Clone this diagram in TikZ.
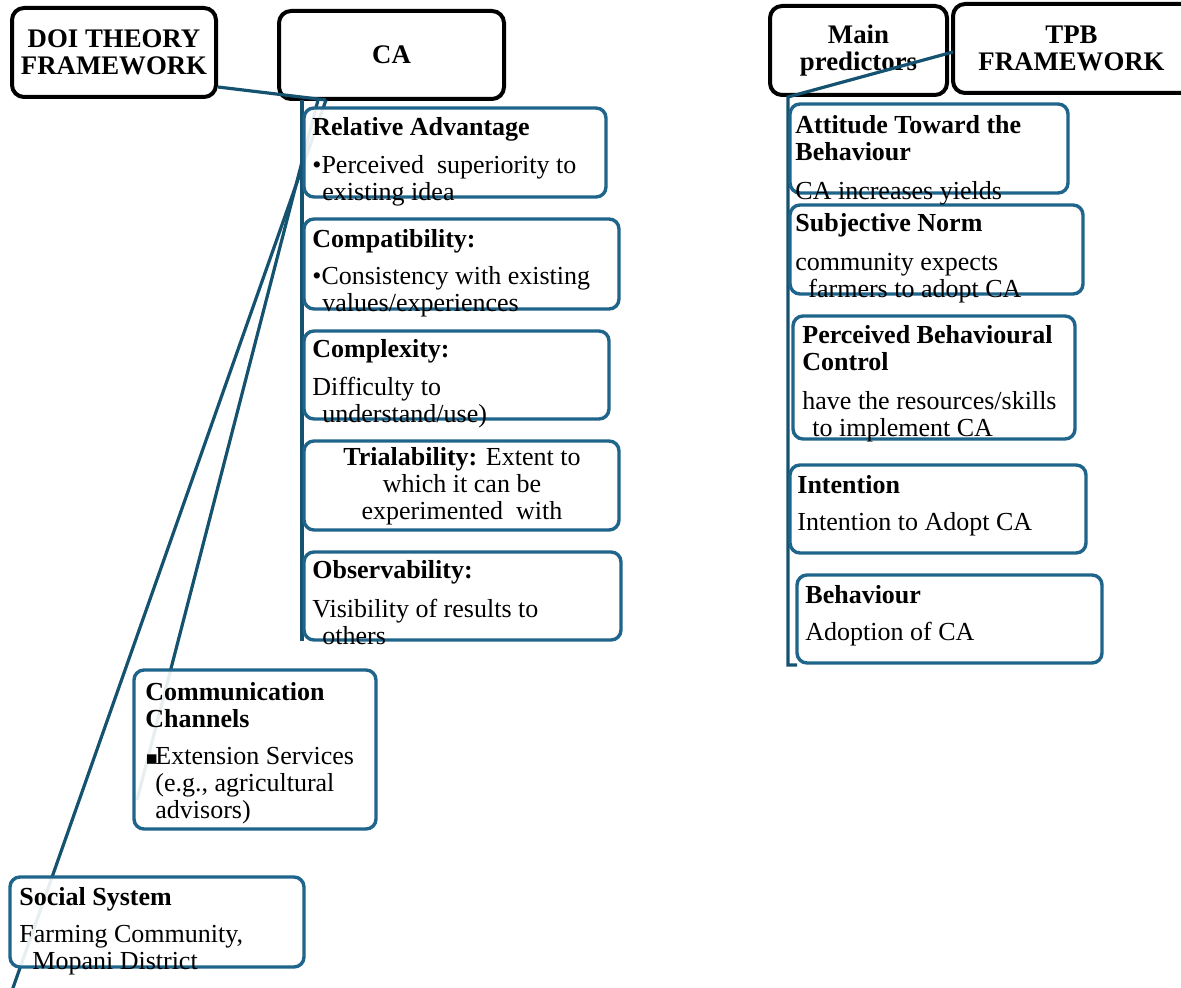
\documentclass[tikz,border=0pt]{standalone}
\usepackage{fontspec}
\setmainfont{Liberation Serif}
\newfontfamily\symfont{DejaVu Sans}
\usetikzlibrary{positioning,fit,calc}
\definecolor{boxblue}{RGB}{31,100,138}
\definecolor{lineblue}{RGB}{21,82,112}
\tikzset{hdbox/.style={draw=black, line width=2pt, rounded corners=6pt, fill=white, inner sep=0pt}}
\tikzset{hdtxt/.style={inner sep=0pt, align=center, font=\fontsize{13.4}{13.5}\selectfont\bfseries}}
\tikzset{itembox/.style={draw=boxblue, line width=1.7pt, rounded corners=5pt, fill=white, fill opacity=0.9, inner sep=0pt}}
\tikzset{txt/.style={anchor=north west, inner sep=0pt, align=left, font=\fontsize{13}{13.5}\selectfont}}
\tikzset{lnk/.style={draw=lineblue, line width=1.6pt}}
\newcommand{\hd}[1]{\textbf{#1}}
\newcommand{\sqbul}{\makebox[5pt][l]{\symfont\fontsize{9.5}{9.5}\selectfont ▪}}

\begin{document}
\begin{tikzpicture}[x=0.5pt, y=-0.5pt]
	\useasboundingbox (0,0) rectangle (1181,988);
	% framework headers
	\node[hdbox, fit={(12,8) (216,97)}] (doi) {};
	\node[hdbox, fit={(279,11) (504,99)}] (ca) {};
	\node[hdbox, fit={(770,6) (947,95)}] (main) {};
	\node[hdbox, fit={(953,4) (1196,93)}] (tpb) {};
	\node[hdtxt] (doi-t) at (doi.center) {DOI THEORY\\FRAMEWORK};
	\node[hdtxt] (ca-t) at (ca.center) {CA};
	\node[hdtxt] (main-t) at (main.center) {Main\\predictors};
	\node[hdtxt] (tpb-t) at ([xshift=-1.5pt]tpb.center) {TPB\\FRAMEWORK};
	%
	\coordinate (apex) at (326,100);
	\coordinate (fanB) at (318,100);
	\coordinate (spine) at (302,100);
	\coordinate (spine-end) at (302,641);
	\coordinate (low-end) at (8,1002);
	\coordinate (cc-in) at (137,800);
	\coordinate (tpb-in) at (953,52);
	\coordinate (rspine) at (788,97);
	\coordinate (rspine-end) at (788,665);
	\draw[lnk] ([yshift=6pt]doi.south east) -- (apex);
	\draw[lnk] (spine) -- (spine-end);
	\draw[lnk] (apex) -- (low-end);
	\draw[lnk] (fanB) -- (cc-in);
	\draw[lnk] (tpb-in) -- (rspine) -- (rspine-end) -- ++(9,0);
	% DOI attributes
	\node[itembox, fit={(304,108) (606,197)}] (ra) {};
	\node[itembox, fit={(304,219) (619,309)}] (comp) {};
	\node[itembox, fit={(304,331) (609,419)}] (cplx) {};
	\node[itembox, fit={(304,441) (619,530)}] (trial) {};
	\node[itembox, fit={(304,552) (621,640)}] (obs) {};
	\node[itembox, fit={(134,670) (376,829)}] (cc) {};
	\node[itembox, fit={(10,877) (304,967)}] (soc) {};
	% TPB predictors
	\node[itembox, fit={(790,104) (1068,193)}] (att) {};
	\node[itembox, fit={(790,205) (1083,294)}] (sn) {};
	\node[itembox, fit={(793,316) (1075,439)}] (pbc) {};
	\node[itembox, fit={(790,465) (1086,553)}] (int) {};
	\node[itembox, fit={(797,575) (1102,663)}] (beh) {};
	%
	\node[txt] (ra-t) at (312,117) {\hd{Relative Advantage}\\[5.5pt]•Perceived\ \ superiority to\\\hspace*{5pt}existing idea};
	\node[txt] (comp-t) at (312,229) {\hd{Compatibility:}\\[5pt]•Consistency with existing\\\hspace*{5pt}values/experiences};
	\node[txt] (cplx-t) at (312,339) {\hd{Complexity:}\\[5.5pt]Difficulty to\\\hspace*{5pt}understand/use)};
	\node[txt, anchor=north, align=center] (trial-t) at (462,447) {\hd{Trialability:} Extent to\\which it can be\\experimented\ \ with};
	\node[txt] (obs-t) at (312,560) {\hd{Observability:}\\[6pt]Visibility of results to\\\hspace*{5pt}others};
	\node[txt] (cc-t) at (145,682) {\hd{Communication}\\\hd{Channels}\\[5pt]\sqbul Extension Services\\\hspace*{5pt}(e.g., agricultural\\\hspace*{5pt}advisors)};
	\node[txt] (soc-t) at (19,887) {\hd{Social System}\\[5pt]Farming Community,\\\hspace*{6.5pt}Mopani District};
	\node[txt] (att-t) at (795,115) {\hd{Attitude Toward the}\\\hd{Behaviour}\\[6pt]CA increases yields};
	\node[txt] (sn-t) at (795,213) {\hd{Subjective Norm}\\[6pt]community expects\\\hspace*{6.5pt}farmers to adopt CA};
	\node[txt] (pbc-t) at (802,325) {\hd{Perceived Behavioural}\\\hd{Control}\\[6pt]have the resources/skills\\\hspace*{5pt}to implement CA};
	\node[txt] (int-t) at (797,475) {\hd{Intention}\\[5pt]Intention to Adopt CA};
	\node[txt] (beh-t) at (805,585) {\hd{Behaviour}\\[5pt]Adoption of CA};
\end{tikzpicture}
\end{document}
